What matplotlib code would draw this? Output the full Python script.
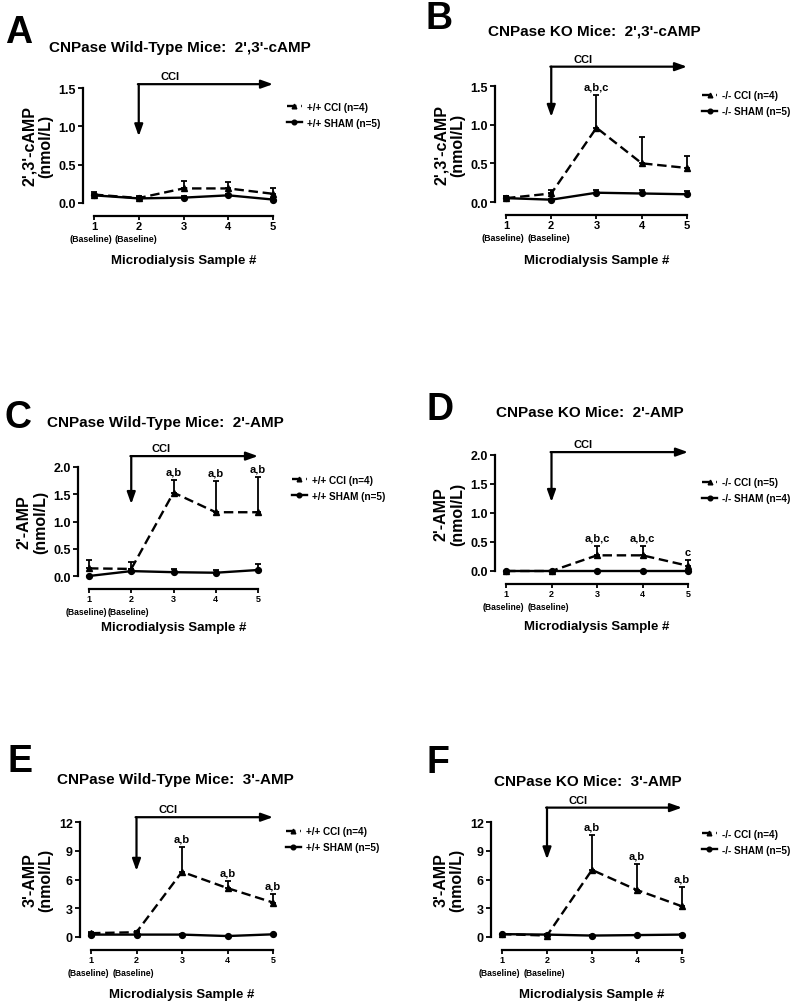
import numpy as np
import matplotlib
matplotlib.use("Agg")
import matplotlib.pyplot as plt

plt.rcParams['font.family'] = ['Liberation Sans', 'DejaVu Sans']
plt.rcParams['font.weight'] = 'bold'
plt.rcParams['axes.labelweight'] = 'bold'

# Datos (media y error superior)
samples = [1, 2, 3, 4, 5]
sample_labels = ['1', '2', '3', '4', '5']
baseline_samples = [1, 2]

a_cci = [0.11, 0.065, 0.19, 0.19, 0.12]
a_cci_err = [0.04, 0.025, 0.10, 0.08, 0.08]
a_sham = [0.10, 0.06, 0.07, 0.10, 0.045]
a_sham_err = [0.02, 0.02, 0.015, 0.02, 0.02]

b_cci = [0.05, 0.11, 0.96, 0.50, 0.44]
b_cci_err = [0.03, 0.05, 0.42, 0.34, 0.15]
b_sham = [0.05, 0.03, 0.12, 0.11, 0.10]
b_sham_err = [0.03, 0.01, 0.03, 0.04, 0.04]

c_cci = [0.14, 0.13, 1.53, 1.17, 1.17]
c_cci_err = [0.15, 0.12, 0.24, 0.58, 0.65]
c_sham = [0.0, 0.09, 0.07, 0.06, 0.11]
c_sham_err = [0.0, 0.03, 0.05, 0.05, 0.11]

d_cci = [0.0, 0.0, 0.27, 0.27, 0.09]
d_cci_err = [0.0, 0.0, 0.16, 0.16, 0.10]
d_sham = [0.0, 0.0, 0.0, 0.0, 0.0]
d_sham_err = [0.0, 0.0, 0.0, 0.0, 0.0]

e_cci = [0.40, 0.50, 6.8, 5.1, 3.6]
e_cci_err = [0.10, 0.10, 2.6, 0.7, 0.9]
e_sham = [0.25, 0.25, 0.25, 0.10, 0.28]
e_sham_err = [0.05, 0.05, 0.05, 0.05, 0.05]

f_cci = [0.30, 0.15, 7.0, 4.9, 3.2]
f_cci_err = [0.05, 0.05, 3.6, 2.7, 2.0]
f_sham = [0.30, 0.25, 0.15, 0.20, 0.25]
f_sham_err = [0.05, 0.05, 0.05, 0.05, 0.05]

# etiquetas de significancia por muestra
a_sig = {}
b_sig = {3: 'a,b,c'}
c_sig = {3: 'a,b', 4: 'a,b', 5: 'a,b'}
d_sig = {3: 'a,b,c', 4: 'a,b,c', 5: 'c'}
e_sig = {3: 'a,b', 4: 'a,b', 5: 'a,b'}
f_sig = {3: 'a,b', 4: 'a,b', 5: 'a,b'}

W, H = 800, 1003
fig = plt.figure(figsize=(W / 100, H / 100), dpi=100)
fig.patch.set_facecolor('white')

# (letra, titulo, ylabel, yticks, leyendas, datos, posiciones en pixeles)
panels = [
    dict(letter='A', title="CNPase Wild-Type Mice:  2',3'-cAMP", ylabel="2',3'-cAMP\n(nmol/L)",
         yticks=[0.0, 0.5, 1.0, 1.5], fmt='{:.1f}',
         labels=['+/+ CCI (n=4)', '+/+ SHAM (n=5)'],
         cci=a_cci, cci_err=a_cci_err, sham=a_sham, sham_err=a_sham_err, sig=a_sig,
         box=(94, 273, 204, 89), title_xy=(180, 48), letter_xy=(5, 33),
         arrow=(1.55, 0.87), leg=(1.078, 0.88), xfs=8, blfs=6.4, xlpad=16.5),
    dict(letter='B', title="CNPase KO Mice:  2',3'-cAMP", ylabel="2',3'-cAMP\n(nmol/L)",
         yticks=[0.0, 0.5, 1.0, 1.5], fmt='{:.1f}',
         labels=['-/- CCI (n=4)', '-/- SHAM (n=5)'],
         cci=b_cci, cci_err=b_cci_err, sham=b_sham, sham_err=b_sham_err, sig=b_sig,
         box=(506, 687, 203, 87), title_xy=(594, 32), letter_xy=(425, 19),
         arrow=(1.75, 1.10), leg=(1.083, 0.965), xfs=8, blfs=6.4, xlpad=17),
    dict(letter='C', title="CNPase Wild-Type Mice:  2'-AMP", ylabel="2'-AMP\n(nmol/L)",
         yticks=[0.0, 0.5, 1.0, 1.5, 2.0], fmt='{:.1f}',
         labels=['+/+ CCI (n=4)', '+/+ SHAM (n=5)'],
         cci=c_cci, cci_err=c_cci_err, sham=c_sham, sham_err=c_sham_err, sig=c_sig,
         box=(89, 258, 577, 468), title_xy=(165, 423), letter_xy=(5, 418),
         arrow=(2.20, 1.32), leg=(1.20, 0.93), xfs=6.5, blfs=6.2, xlpad=13),
    dict(letter='D', title="CNPase KO Mice:  2'-AMP", ylabel="2'-AMP\n(nmol/L)",
         yticks=[0.0, 0.5, 1.0, 1.5, 2.0], fmt='{:.1f}',
         labels=['-/- CCI (n=5)', '-/- SHAM (n=4)'],
         cci=d_cci, cci_err=d_cci_err, sham=d_sham, sham_err=d_sham_err, sig=d_sig,
         box=(506, 688, 572, 456), title_xy=(590, 413), letter_xy=(427, 410),
         arrow=(2.05, 1.19), leg=(1.077, 0.81), xfs=6.5, blfs=6.2, xlpad=15.5),
    dict(letter='E', title="CNPase Wild-Type Mice:  3'-AMP", ylabel="3'-AMP\n(nmol/L)",
         yticks=[0, 3, 6, 9, 12], fmt='{:d}',
         labels=['+/+ CCI (n=4)', '+/+ SHAM (n=5)'],
         cci=e_cci, cci_err=e_cci_err, sham=e_sham, sham_err=e_sham_err, sig=e_sig,
         box=(91, 273, 938, 823), title_xy=(175, 780), letter_xy=(8, 762),
         arrow=(12.5, 6.9), leg=(1.07, 0.965), xfs=6.5, blfs=6.2, xlpad=17),
    dict(letter='F', title="CNPase KO Mice:  3'-AMP", ylabel="3'-AMP\n(nmol/L)",
         yticks=[0, 3, 6, 9, 12], fmt='{:d}',
         labels=['-/- CCI (n=4)', '-/- SHAM (n=5)'],
         cci=f_cci, cci_err=f_cci_err, sham=f_sham, sham_err=f_sham_err, sig=f_sig,
         box=(502, 682, 938, 823), title_xy=(588, 782), letter_xy=(427, 763),
         arrow=(13.5, 8.1), leg=(1.11, 0.94), xfs=6.5, blfs=6.2, xlpad=17),
]


def draw_panel(p):
    x1, x5, y0, ytop = p['box']
    ax = fig.add_axes([x1 / W, 1 - y0 / H, (x5 - x1) / W, (y0 - ytop) / H])
    ax.set_facecolor('none')
    ymax = p['yticks'][-1]
    ax.set_xlim(1, 5)
    ax.set_ylim(0, ymax)

    for sp in ['top', 'right']:
        ax.spines[sp].set_visible(False)
    ax.spines['left'].set_position(('outward', 8))
    ax.spines['bottom'].set_position(('outward', 9.5))
    ax.spines['left'].set_bounds(0, ymax)
    ax.spines['bottom'].set_bounds(1, 5)
    ax.spines['left'].set_linewidth(1.6)
    ax.spines['bottom'].set_linewidth(1.6)

    ax.set_yticks(p['yticks'])
    ax.set_yticklabels([p['fmt'].format(v) for v in p['yticks']], fontsize=9)
    ax.set_xticks(samples)
    ax.set_xticklabels(sample_labels, fontsize=p['xfs'])
    ax.tick_params(axis='y', width=1.3, length=3.5, pad=1.5)
    ax.tick_params(axis='x', width=1.3, length=3, pad=0.5)

    for s in baseline_samples:
        ax.annotate('(Baseline)', xy=(s, 0), xycoords=('data', 'axes fraction'),
                    xytext=(-2, -25.5), textcoords='offset points', ha='center', va='center',
                    fontsize=p['blfs'], fontweight='bold', annotation_clip=False)

    ax.set_ylabel(p['ylabel'], fontsize=11.5, labelpad=4, linespacing=1.1)
    ax.set_xlabel('Microdialysis Sample #', fontsize=9.5, labelpad=p['xlpad'])

    # barras de error (solo hacia arriba)
    zeros = np.zeros(len(samples))
    ax.errorbar(samples, p['cci'], yerr=[zeros, p['cci_err']], fmt='none',
                ecolor='black', elinewidth=1.3, capsize=2.5, capthick=1.3, clip_on=False)
    ax.errorbar(samples, p['sham'], yerr=[zeros, p['sham_err']], fmt='none',
                ecolor='black', elinewidth=1.3, capsize=2.5, capthick=1.3, clip_on=False)

    ax.plot(samples, p['cci'], color='black', lw=1.7, ls=(0, (4, 2)), marker='^',
            ms=4.2, clip_on=False, label=p['labels'][0], zorder=3)
    ax.plot(samples, p['sham'], color='black', lw=1.7, ls='-', marker='o',
            ms=4.2, clip_on=False, label=p['labels'][1], zorder=3)

    for s, txt in p['sig'].items():
        i = samples.index(s)
        ax.annotate(txt, xy=(s, p['cci'][i] + p['cci_err'][i]), xytext=(0, 2.5),
                    textcoords='offset points', ha='center', va='bottom',
                    fontsize=8, fontweight='bold', annotation_clip=False)

    # flecha CCI
    yh, ytip = p['arrow']
    ax.annotate('', xy=(2, ytip), xytext=(2, yh), annotation_clip=False,
                arrowprops=dict(arrowstyle='-|>,head_length=0.7,head_width=0.25',
                                color='black', lw=1.6, shrinkA=0, shrinkB=0))
    ax.annotate('', xy=(5, yh), xytext=(1.98, yh), annotation_clip=False,
                arrowprops=dict(arrowstyle='-|>,head_length=0.7,head_width=0.25',
                                color='black', lw=1.6, shrinkA=0, shrinkB=0))
    ax.annotate('CCI', xy=(2.7, yh), xytext=(0, 2), textcoords='offset points',
                ha='center', va='bottom', fontsize=8, fontweight='bold',
                annotation_clip=False)

    ax.legend(loc='upper left', bbox_to_anchor=p['leg'], frameon=False, fontsize=7.2,
              handlelength=1.5, handletextpad=0.5, borderpad=0, borderaxespad=0,
              labelspacing=0.6, numpoints=1, markerscale=0.8)

    tx, ty = p['title_xy']
    fig.text(tx / W, 1 - ty / H, p['title'], ha='center', va='center',
             fontsize=11, fontweight='bold')
    lx, ly = p['letter_xy']
    fig.text(lx / W, 1 - ly / H, p['letter'], ha='left', va='center',
             fontsize=27, fontweight='bold')


for p in panels:
    draw_panel(p)

fig.savefig('out.png', dpi=100, facecolor='white')
